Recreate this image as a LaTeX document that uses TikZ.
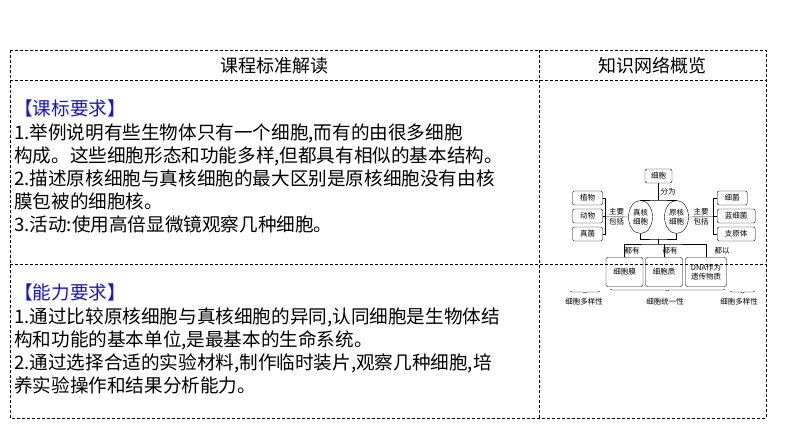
\documentclass[tikz,border=0pt]{standalone}
\usepackage{fontspec}
\setmainfont{Noto Sans CJK SC}
\usetikzlibrary{decorations.pathreplacing,shapes.geometric}
\definecolor{hdblue}{RGB}{20,20,220}
\begin{document}
\begin{tikzpicture}[x=1pt,y=-1pt,
  frame/.style={densely dashed,line width=0.6pt},
  body/.style={anchor=north west,align=left,font=\fontsize{18.6}{23.2}\selectfont,inner sep=0},
  bx/.style={draw,rounded corners=2pt,font=\fontsize{7.5}{9}\selectfont,inner sep=0.5pt,align=center,line width=0.4pt},
  el/.style={draw,ellipse,line width=0.4pt,minimum width=24,minimum height=33,inner sep=0,font=\fontsize{7.5}{9}\selectfont,align=center},
  lb/.style={font=\fontsize{7.5}{9}\selectfont,inner sep=0.5pt,align=center},
  ln/.style={line width=0.4pt},
  br/.style={decorate,decoration={brace,mirror,amplitude=2pt},line width=0.4pt}]
\useasboundingbox (0,0) rectangle (794,446);
% table
\draw[frame] (10,50) rectangle (766,418);
\draw[frame] (10,80) -- (766,80);
\draw[frame] (10,264) -- (766,264);
\draw[frame] (539,50) -- (539,418);
\node[font=\fontsize{18}{20}\selectfont] (h1) at (274,66) {课程标准解读};
\node[font=\fontsize{18}{20}\selectfont] (h2) at (652,66) {知识网络概览};
\node[body] (t1) at (14,100) {\textcolor{hdblue}{【课标要求】}\\
1.举例说明有些生物体只有一个细胞,而有的由很多细胞\\
构成。这些细胞形态和功能多样,但都具有相似的基本结构。\\
2.描述原核细胞与真核细胞的最大区别是原核细胞没有由核\\
膜包被的细胞核。\\
3.活动:使用高倍显微镜观察几种细胞。};
\node[body] (t2) at (14,284) {\textcolor{hdblue}{【能力要求】}\\
1.通过比较原核细胞与真核细胞的异同,认同细胞是生物体结\\
构和功能的基本单位,是最基本的生命系统。\\
2.通过选择合适的实验材料,制作临时装片,观察几种细胞,培\\
养实验操作和结果分析能力。};
% diagram
\node[bx,minimum width=27,minimum height=14] (cell) at (658.5,176) {细胞};
\node[el] (eu) at (640.5,217) {真核\\细胞};
\node[el] (pro) at (676.5,217) {原核\\细胞};
\coordinate (ft) at (658.5,200);
\draw[ln] (cell.south) -- (ft);
\draw[ln] (eu.north) |- (ft) -| (pro.north);
\node[lb,anchor=west] (fw) at (660,192) {分为};
% left boxes
\node[bx,minimum width=30,minimum height=14] (zw) at (587.5,198) {植物};
\node[bx,minimum width=30,minimum height=14] (dw) at (587.5,216) {动物};
\node[bx,minimum width=30,minimum height=14] (zj) at (587.5,234) {真菌};
\coordinate (lb1) at (605,198);
\coordinate (lb2) at (605,234);
\coordinate (lb0) at (605,216.7);
\draw[ln] (zw.east) -- (lb1) -- (lb2) -- (zj.east);
\draw[ln] (dw.east) -- (lb1|-dw.east);
\draw[ln] (lb0) -- (eu.west);
\node[lb] (zl) at (616.5,216.7) {主要\\[1pt]包括};
% right boxes
\node[bx,minimum width=30,minimum height=14,anchor=west] (xj) at (717,198) {细菌};
\node[bx,minimum width=38,minimum height=14,anchor=west] (lx) at (717,216) {蓝细菌};
\node[bx,minimum width=38,minimum height=14,anchor=west] (zy) at (717,234) {支原体};
\coordinate (rb1) at (713,198);
\coordinate (rb2) at (713,234);
\coordinate (rb0) at (713,216.7);
\draw[ln] (xj.west) -- (rb1) -- (rb2) -- (zy.west);
\draw[ln] (lx.west) -- (rb1|-lx.west);
\draw[ln] (rb0) -- (pro.east);
\node[lb] (rl) at (701,216.7) {主要\\[1pt]包括};
% bottom
\node[bx,minimum width=37,minimum height=29] (mo) at (624.5,272) {细胞膜};
\node[bx,minimum width=37,minimum height=29] (zh) at (664,272) {细胞质};
\node[bx,minimum width=41,minimum height=29] (dna) at (706,272) {DNA作为\\遗传物质};
\coordinate (jc) at (658.5,239);
\coordinate (hb) at (658.5,244);
\draw[ln] (eu.south) |- (jc) -| (pro.south);
\draw[ln] (jc) -- (hb);
\draw[ln] (zh.north) -- (zh.north|-hb);
\draw[ln] (mo.north) |- (hb) -| (dna.north);
\node[lb] (d1) at (632,250.5) {都有};
\node[lb] (d2) at (670,250.5) {都有};
\node[lb] (d3) at (722,250.5) {都以};
% braces
\draw[br] (570,291) -- (600,291);
\draw[br] (610,289) -- (725,289);
\draw[br] (730,291) -- (755,291);
\node[lb] (b1) at (584,302) {细胞多样性};
\node[lb] (b2) at (665,302) {细胞统一性};
\node[lb] (b3) at (739,302) {细胞多样性};
\end{tikzpicture}
\end{document}
